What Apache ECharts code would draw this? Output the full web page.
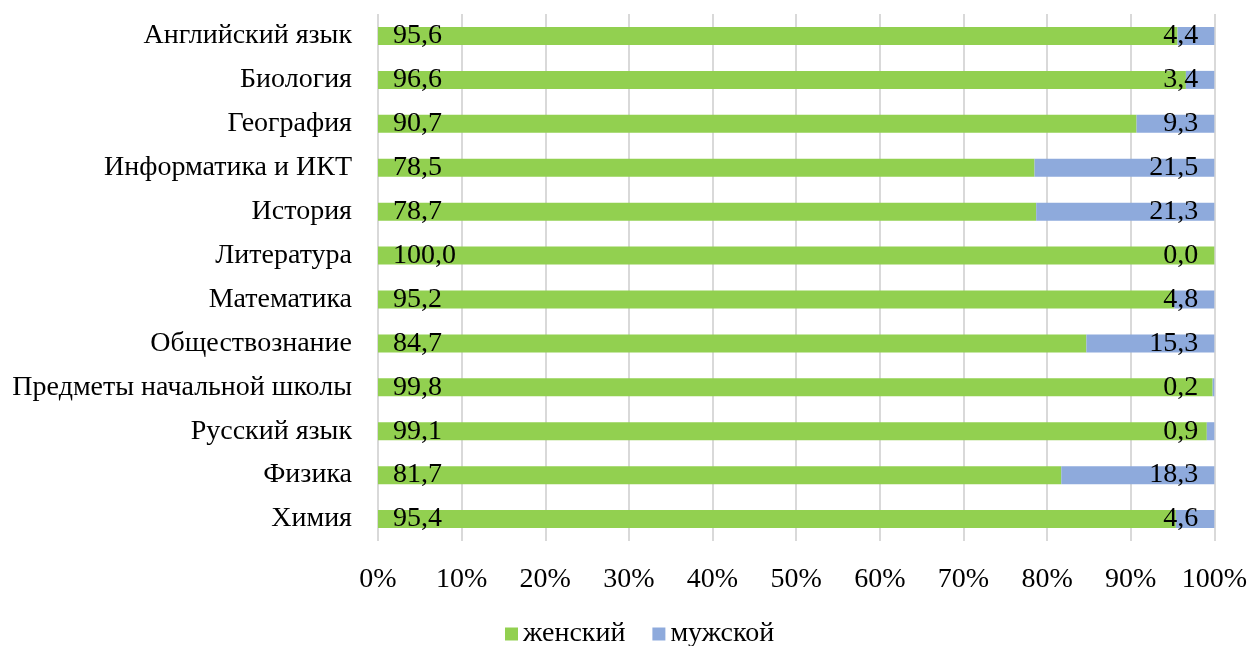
<!DOCTYPE html>
<html>
<head>
<meta charset="utf-8">
<script src="https://cdn.jsdelivr.net/npm/echarts@6/dist/echarts.min.js"></script>
<style>
  html, body { margin: 0; padding: 0; background: #fff; }
  #chart { width: 1250px; height: 646px; }
</style>
</head>
<body>
<div id="chart"></div>
<script>
  // предметы (сверху вниз)
  const subjects = [
    'Английский язык', 'Биология', 'География', 'Информатика и ИКТ', 'История',
    'Литература', 'Математика', 'Обществознание', 'Предметы начальной школы',
    'Русский язык', 'Физика', 'Химия'
  ]
  const female = [95.6, 96.6, 90.7, 78.5, 78.7, 100.0, 95.2, 84.7, 99.8, 99.1, 81.7, 95.4]
  const male = [4.4, 3.4, 9.3, 21.5, 21.3, 0.0, 4.8, 15.3, 0.2, 0.9, 18.3, 4.6]
  const seriesNames = ['женский', 'мужской']

  const font = 'Liberation Serif, Times New Roman, serif'
  const fs = 28
  const fmt = p => p.value.toFixed(1).replace('.', ',')

  const chart = echarts.init(document.getElementById('chart'))
  chart.setOption({
    animation: false,
    textStyle: { fontFamily: font },
    grid: { left: 378, right: 32, top: 14, bottom: 105 },
    legend: {
      top: 615,
      left: 500,
      itemWidth: 13,
      itemHeight: 13,
      itemGap: 27,
      icon: 'rect',
      textStyle: { fontFamily: font, fontSize: fs, color: '#000' },
      data: seriesNames
    },
    xAxis: {
      type: 'value',
      min: 0,
      max: 100,
      interval: 10,
      axisLabel: { formatter: '{value}%', fontFamily: font, fontSize: fs, color: '#000', margin: 25 },
      axisLine: { show: false },
      axisTick: { show: false },
      splitLine: { lineStyle: { color: '#d9d9d9', width: 2 } }
    },
    yAxis: {
      type: 'category',
      inverse: true,
      data: subjects,
      axisLabel: { fontFamily: font, fontSize: fs, color: '#000', margin: 26 },
      axisLine: { show: false },
      axisTick: { show: false }
    },
    series: [
      {
        name: seriesNames[0],
        type: 'bar',
        stack: 'all',
        barWidth: 18,
        data: female,
        itemStyle: { color: '#92d050' },
        label: {
          show: true, position: 'insideLeft', distance: 15,
          formatter: fmt, fontFamily: font, fontSize: fs, color: '#000'
        }
      },
      {
        name: seriesNames[1],
        type: 'bar',
        stack: 'all',
        barWidth: 18,
        data: male,
        itemStyle: { color: '#8eaadc' },
        label: {
          show: true, position: 'insideRight', distance: 16,
          formatter: fmt, fontFamily: font, fontSize: fs, color: '#000'
        }
      }
    ]
  })
</script>
</body>
</html>
